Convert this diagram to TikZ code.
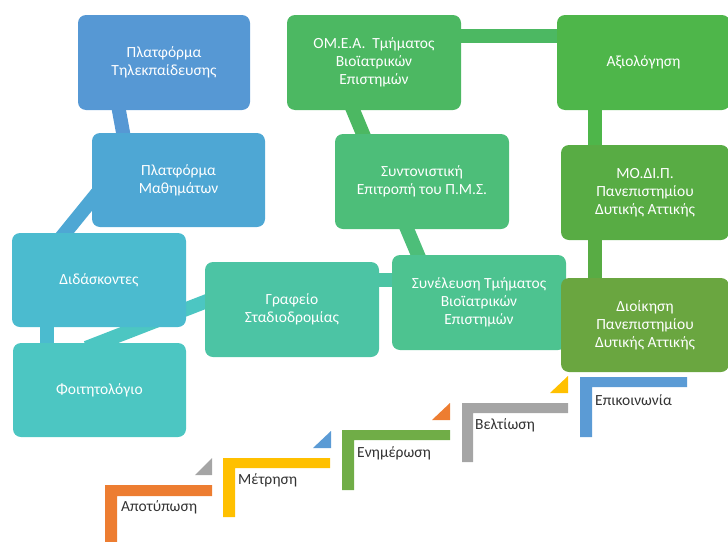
\documentclass[tikz,border=0pt]{standalone}
\usepackage{fontspec}
\setmainfont{Carlito}
\usetikzlibrary{backgrounds}
\definecolor{cTele}{HTML}{5698D4}
\definecolor{cMath}{HTML}{4EA7D4}
\definecolor{cDid}{HTML}{4BBBCF}
\definecolor{cFoit}{HTML}{4CC6C2}
\definecolor{cGraf}{HTML}{4CC4A4}
\definecolor{cSyn}{HTML}{4DC390}
\definecolor{cSynt}{HTML}{4DBE79}
\definecolor{cOmea}{HTML}{4CB862}
\definecolor{cAxio}{HTML}{4EB64A}
\definecolor{cModip}{HTML}{58AC44}
\definecolor{cDioik}{HTML}{6AA640}
\definecolor{sOrange}{HTML}{ED7D31}
\definecolor{sYellow}{HTML}{FFC000}
\definecolor{sGreen}{HTML}{70AD47}
\definecolor{sGray}{HTML}{A5A5A5}
\definecolor{sBlue}{HTML}{5B9BD5}
\definecolor{labtext}{HTML}{333333}
\begin{document}
\begin{tikzpicture}[x=1pt,y=-1pt,
  box/.style={rectangle, rounded corners=8pt, fill=#1, text=white, align=center,
    inner sep=0pt, font=\fontsize{15.5}{18}\selectfont},
  conn/.style={line width=14pt, draw=#1},
  steplabel/.style={anchor=west, inner sep=0pt, text=labtext, font=\fontsize{15.5}{18}\selectfont}]
\useasboundingbox (0,0) rectangle (728,541);
\clip (0,0) rectangle (728,541);
% boxes
\node[box=cTele, minimum width=172pt, minimum height=95pt] (tele) at (164,62.5) {Πλατφόρμα\\Τηλεκπαίδευσης};
\node[box=cMath, minimum width=173pt, minimum height=94pt] (math) at (178.5,180) {Πλατφόρμα\\Μαθημάτων};
\node[box=cDid, minimum width=174pt, minimum height=94pt] (did) at (99,280) {Διδάσκοντες};
\node[box=cFoit, minimum width=173pt, minimum height=94pt] (foit) at (99.5,390) {Φοιτητολόγιο};
\node[box=cGraf, minimum width=174pt, minimum height=95pt] (graf) at (292,309.5) {Γραφείο\\Σταδιοδρομίας};
\node[box=cSyn, minimum width=174pt, minimum height=95pt] (syn) at (479,302.5) {Συνέλευση Τμήματος\\Βιοϊατρικών\\Επιστημών};
\node[box=cSynt, minimum width=174pt, minimum height=95pt] (synt) at (422,181.5) {Συντονιστική\\Επιτροπή του Π.Μ.Σ.};
\node[box=cOmea, minimum width=174pt, minimum height=95pt] (omea) at (374,62.5) {ΟΜ.Ε.Α.\ \ Τμήματος\\Βιοϊατρικών\\Επιστημών};
\node[box=cAxio, minimum width=173pt, minimum height=95pt] (axio) at (643.5,62.5) {Αξιολόγηση};
\node[box=cModip, minimum width=168pt, minimum height=95pt] (modip) at (645,192.5) {ΜΟ.ΔΙ.Π.\\Πανεπιστημίου\\Δυτικής Αττικής};
\node[box=cDioik, minimum width=168pt, minimum height=94pt] (dioik) at (645,325) {Διοίκηση\\Πανεπιστημίου\\Δυτικής Αττικής};
% connectors
\begin{scope}[on background layer]
\draw[conn=cTele] ([xshift=-46pt,yshift=5pt]tele.south) -- ([xshift=-54.5pt,yshift=-5pt]math.north);
\draw[conn=cMath] ([xshift=8pt,yshift=-10pt]math.west) -- ([xshift=-38pt,yshift=-5pt]did.north);
\draw[conn=cDid] ([xshift=-52.5pt,yshift=5pt]did.south) -- ([xshift=-53pt,yshift=-5pt]foit.north);
\draw[conn=cFoit] ([xshift=-13pt,yshift=-5pt]foit.north) -- ([xshift=10pt,yshift=11.5pt]graf.west);
\draw[conn=cGraf] ([xshift=-5pt,yshift=30pt]graf.east) -- ([xshift=5pt,yshift=23pt]syn.west);
\draw[conn=cSynt] ([xshift=-17pt,yshift=5pt]synt.south) -- ([xshift=-59pt,yshift=-5pt]syn.north);
\draw[conn=cOmea] ([xshift=-23pt,yshift=5pt]omea.south) -- ([xshift=-57pt,yshift=-5pt]synt.north);
\draw[conn=cOmea] ([xshift=-5pt,yshift=26.5pt]omea.east) -- ([xshift=5pt,yshift=26.5pt]axio.west);
\draw[conn=cAxio] ([xshift=-49pt,yshift=5pt]axio.south) -- ([xshift=-50.5pt,yshift=-5pt]modip.north);
\draw[conn=cModip] ([xshift=-50.5pt,yshift=5pt]modip.south) -- ([xshift=-50.5pt,yshift=-5pt]dioik.north);
\end{scope}
% steps
\fill[sOrange] (105,545) -- (105,485) -- (212,485) -- (212,496) -- (117,496) -- (117,545) -- cycle;
\fill[sYellow] (223,517) -- (223,458) -- (330,458) -- (330,468) -- (235,468) -- (235,517) -- cycle;
\fill[sGreen] (342,490) -- (342,430) -- (450,430) -- (450,440) -- (354,440) -- (354,490) -- cycle;
\fill[sGray] (462,462) -- (462,403) -- (568,403) -- (568,413) -- (473,413) -- (473,462) -- cycle;
\fill[sBlue] (580,437) -- (580,377) -- (687,377) -- (687,387) -- (592,387) -- (592,437) -- cycle;
\fill[sGray] (195,475) -- (212,475) -- (212,458) -- cycle;
\fill[sBlue] (313,448) -- (331,448) -- (331,431) -- cycle;
\fill[sOrange] (432,420) -- (450,420) -- (450,403) -- cycle;
\fill[sYellow] (550,393) -- (568,393) -- (568,376) -- cycle;
\node[steplabel] (l1) at (121,507) {Αποτύπωση};
\node[steplabel] (l2) at (238,480) {Μέτρηση};
\node[steplabel] (l3) at (357,453) {Ενημέρωση};
\node[steplabel] (l4) at (475,425) {Βελτίωση};
\node[steplabel] (l5) at (595,400) {Επικοινωνία};
\end{tikzpicture}
\end{document}
